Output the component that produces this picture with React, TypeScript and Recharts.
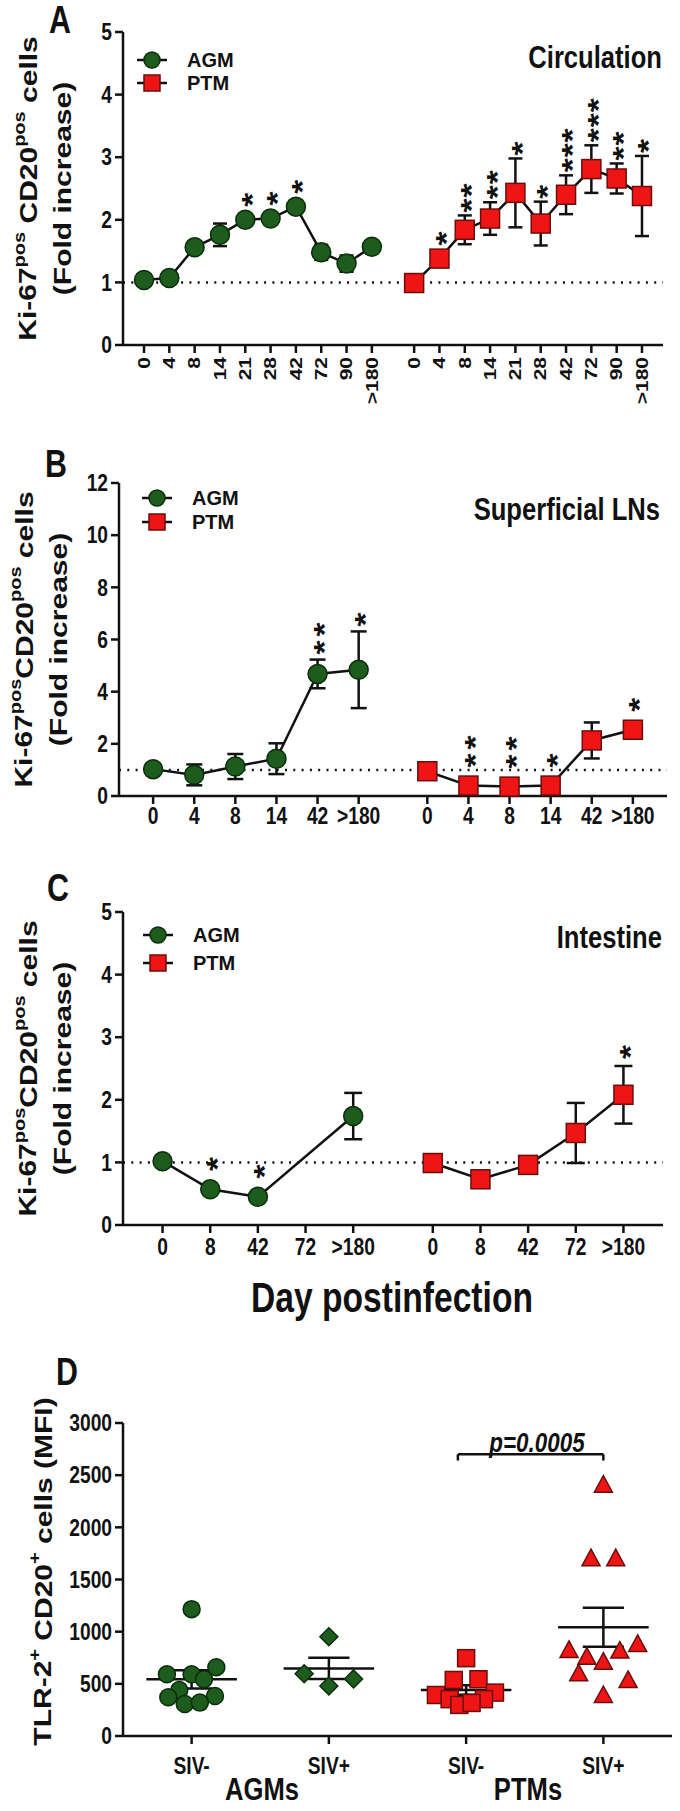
import React from 'react'
import { ComposedChart, Scatter, XAxis, YAxis, ErrorBar, ReferenceLine } from 'recharts'

const FONT = '"Liberation Sans", Arial, Helvetica, sans-serif'
const SQUEEZE = 0.8 // the figure is narrower than its type, so most text is squeezed a bit
const INK = '#111'
const GREEN = '#1d5c1d'
const GREEN_EDGE = '#0a2e0a'
const RED = '#f01515'
const RED_EDGE = '#6a0d0d'
const GAP = 1.67 // distance between the AGM and PTM blocks, in day steps
const PAD = 0.83
const Y_W = 50

// A - circulation
const circDays = ['0', '4', '8', '14', '21', '28', '42', '72', '90', '>180']
const circTicks = [0, 1, 2, 3, 4, 5]
const circAgm = [1.04, 1.07, 1.56, 1.76, 2.0, 2.02, 2.21, 1.48, 1.3, 1.57]
const circAgmErr = [0.03, 0.03, 0.05, 0.18, 0.05, 0.06, 0.1, 0.12, 0.13, 0.08]
const circAgmStars = ['', '', '', '', '*', '*', '*', '', '', '']
const circPtm = [0.99, 1.38, 1.84, 2.02, 2.43, 1.94, 2.4, 2.81, 2.66, 2.38]
const circPtmErr = [0.03, 0.05, 0.23, 0.26, 0.55, 0.35, 0.31, 0.38, 0.24, 0.64]
const circPtmStars = ['', '*', '**', '**', '*', '*', '***', '***', '**', '*']

// B - superficial lymph nodes
const lnDays = ['0', '4', '8', '14', '42', '>180']
const lnTicks = [0, 2, 4, 6, 8, 10, 12]
const lnAgm = [1.03, 0.81, 1.13, 1.43, 4.68, 4.84]
const lnAgmErr = [0.05, 0.4, 0.48, 0.59, 0.55, 1.47]
const lnAgmStars = ['', '', '', '', '**', '*']
const lnPtm = [0.95, 0.4, 0.36, 0.4, 2.13, 2.54]
const lnPtmErr = [0.05, 0.05, 0.05, 0.05, 0.69, 0.12]
const lnPtmStars = ['', '**', '**', '*', '', '*']

// C - intestine
const gutDays = ['0', '8', '42', '72', '>180']
const gutTicks = [0, 1, 2, 3, 4, 5]
const gutAgm = [1.02, 0.57, 0.45, null, 1.74]
const gutAgmErr = [0.03, 0.05, 0.04, null, 0.37]
const gutAgmStars = ['', '*', '*', '', '']
const gutPtm = [0.99, 0.73, 0.96, 1.47, 2.08]
const gutPtmErr = [0.04, 0.04, 0.04, 0.48, 0.46]
const gutPtmStars = ['', '', '', '', '*']

// D - TLR-2 MFI
const groupLabels = ['SIV-', 'SIV+', 'SIV-', 'SIV+']
const mfiTicks = [0, 500, 1000, 1500, 2000, 2500, 3000]
const agmNegMfi = [1216, 592, 592, 659, 544, 441, 371, 384, 307, 320]
const agmNegJitter = [0, -0.18, 0, 0.18, 0.09, -0.09, -0.17, 0.17, -0.05, 0.06]
const agmPosMfi = [951, 597, 547, 479]
const agmPosJitter = [0, -0.18, 0.18, 0]
const ptmNegMfi = [746, 537, 544, 393, 416, 353, 353, 298, 317]
const ptmNegJitter = [0, -0.09, 0.09, -0.22, 0.21, -0.12, 0.13, -0.05, 0.04]
const ptmPosMfi = [2409, 1705, 1705, 883, 825, 819, 761, 713, 601, 537, 393]
const ptmPosJitter = [0, -0.09, 0.09, 0.25, -0.25, 0.12, -0.12, 0, -0.18, 0.18, 0]
const groupMean = [543, 648, 441, 1043]
const groupSem = [88, 101, 45, 187]
const MEAN_HALF = 0.33
const CAP_HALF = 0.15
const bracketY = 2700
const bracketDrop = 60
const bracketFrom = 1.94
const bracketTo = 3

const AXIS = { stroke: INK, strokeWidth: 2.5 }
const LINE = { stroke: INK, strokeWidth: 2.5 }
const Y_TICK_FONT = 24

type Row = { x: number; y: number; err: number; stars: string }

function rowsFor(days: string[], vals: (number | null)[], errs: (number | null)[], stars: string[], start: number) {
  const out: Row[] = []
  days.forEach((_, i) => {
    const v = vals[i]
    if (v == null) return
    out.push({ x: start + i, y: v, err: errs[i] ?? 0, stars: stars[i] })
  })
  return out
}

function starRows(rows: Row[], pad: number) {
  return rows.filter((r) => r.stars).map((r) => ({ x: r.x, y: r.y + Math.max(r.err, pad), stars: r.stars }))
}

const circle = (fill: string, edge: string, r: number) => (p: any) => (
  <circle cx={p.cx} cy={p.cy} r={r} fill={fill} stroke={edge} strokeWidth={1.5} />
)
const square = (fill: string, edge: string, s: number) => (p: any) => (
  <rect x={p.cx - s / 2} y={p.cy - s / 2} width={s} height={s} fill={fill} stroke={edge} strokeWidth={1.5} />
)
const diamond = (fill: string, edge: string, h: number) => (p: any) => (
  <polygon
    points={`${p.cx},${p.cy - h} ${p.cx + h},${p.cy} ${p.cx},${p.cy + h} ${p.cx - h},${p.cy}`}
    fill={fill}
    stroke={edge}
    strokeWidth={1.5}
  />
)
const triangle = (fill: string, edge: string, w: number) => (p: any) => (
  <polygon
    points={`${p.cx},${p.cy - w * 0.5} ${p.cx + w / 2},${p.cy + w * 0.42} ${p.cx - w / 2},${p.cy + w * 0.42}`}
    fill={fill}
    stroke={edge}
    strokeWidth={1.5}
  />
)

// each column of asterisks is one text run, turned upright so the marks stack
// upwards from the top of the error bar
const STAR_SIZE = 36
const STAR_ADV = 0.389 * STAR_SIZE
const starShape = (gap: number, step: number) => (p: any) => {
  const marks = p.payload?.stars || ''
  if (!marks) return <g />
  return (
    <g transform={`translate(${p.cx},${p.cy}) scale(${SQUEEZE},1) rotate(-90)`}>
      <text
        x={gap - STAR_ADV / 2}
        y={STAR_SIZE * 0.57}
        letterSpacing={step - STAR_ADV}
        fontSize={STAR_SIZE}
        fontWeight="bold"
        fontFamily={FONT}
        fill={INK}
      >
        {marks}
      </text>
    </g>
  )
}

const makeYTick = (size: number) => (p: any) => (
  <g transform={`translate(${p.x},${p.y}) scale(${SQUEEZE},1)`}>
    <text textAnchor="end" dominantBaseline="central" fontSize={size} fontWeight="bold" fontFamily={FONT} fill={INK}>
      {p.payload.value}
    </text>
  </g>
)

const makeXTick = (xs: number[], labels: string[], rotate: boolean, size: number) => (p: any) => {
  const i = xs.findIndex((v) => Math.abs(v - p.payload.value) < 1e-6)
  const label = labels[i] ?? ''
  if (rotate) {
    return (
      <g transform={`translate(${p.x},${p.y}) scale(${SQUEEZE},1) rotate(-90)`}>
        <text textAnchor="end" dominantBaseline="central" fontSize={size} fontWeight="bold" fontFamily={FONT} fill={INK}>
          {label}
        </text>
      </g>
    )
  }
  return (
    <g transform={`translate(${p.x},${p.y}) scale(${SQUEEZE},1)`}>
      <text textAnchor="middle" dy="0.71em" fontSize={size} fontWeight="bold" fontFamily={FONT} fill={INK}>
        {label}
      </text>
    </g>
  )
}

function YTitle({ viewBox, lines, offsets, shift = 0 }: any) {
  if (!viewBox) return null
  const right = viewBox.x + viewBox.width
  const cy = viewBox.y + viewBox.height / 2 + shift
  return (
    <g>
      {lines.map((l: React.ReactNode, i: number) => (
        <g key={i} transform={`translate(${right - offsets[i]},${cy}) scale(${SQUEEZE},1) rotate(-90)`}>
          <text textAnchor="middle" dominantBaseline="central" fontSize={30} fontWeight="bold" fontFamily={FONT} fill={INK}>
            {l}
          </text>
        </g>
      ))}
    </g>
  )
}

const kiTitle = (gap: string) => (
  <>
    Ki-67
    <tspan fontSize={20} dy={-11}>
      pos
    </tspan>
    <tspan dy={11}>{gap}CD20</tspan>
    <tspan fontSize={20} dy={-11}>
      pos
    </tspan>
    <tspan dy={11}> cells</tspan>
  </>
)
const foldTitle = '(Fold increase)'
const tlrTitle = (
  <>
    TLR-2
    <tspan fontSize={20} dy={-11}>
      +
    </tspan>
    <tspan dy={11}> CD20</tspan>
    <tspan fontSize={20} dy={-11}>
      +
    </tspan>
    <tspan dy={11}> cells (MFI)</tspan>
  </>
)

function Note({ x, y, size, anchor = 'middle', italic = false, children }: any) {
  const tx = anchor === 'start' ? '0' : anchor === 'end' ? '-100%' : '-50%'
  return (
    <div
      style={{
        position: 'absolute',
        left: x,
        top: y,
        transform: `scaleX(${SQUEEZE}) translate(${tx}, -50%)`,
        transformOrigin: '0 0',
        fontSize: size,
        fontWeight: 'bold',
        fontStyle: italic ? 'italic' : 'normal',
        fontFamily: FONT,
        lineHeight: 0.8,
        whiteSpace: 'nowrap',
        color: INK,
      }}
    >
      {children}
    </div>
  )
}

// legend: two symbols with the series names set as one two-line block
function Key({ x, y, step }: any) {
  return (
    <>
      {['agm', 'ptm'].map((kind, i) => (
        <svg key={kind} width={34} height={24} style={{ position: 'absolute', left: x - 17, top: y + i * step - 12 }}>
          <line x1={2} y1={12} x2={32} y2={12} stroke={INK} strokeWidth={2.5} />
          {kind === 'agm' ? (
            <circle cx={17} cy={12} r={8} fill={GREEN} stroke={GREEN_EDGE} strokeWidth={1.5} />
          ) : (
            <rect x={9} y={4} width={16} height={16} fill={RED} stroke={RED_EDGE} strokeWidth={1.5} />
          )}
        </svg>
      ))}
      <div
        style={{
          position: 'absolute',
          left: x + 35,
          top: y - step / 2,
          fontSize: 20,
          fontWeight: 'bold',
          fontFamily: FONT,
          lineHeight: `${step}px`,
          whiteSpace: 'nowrap',
          color: INK,
        }}
      >
        AGM
        <br />
        PTM
      </div>
    </>
  )
}

type CourseProps = {
  top: number
  height: number
  plot: number[]
  xHeight: number
  days: string[]
  agm: (number | null)[]
  agmErr: (number | null)[]
  agmStars: string[]
  ptm: number[]
  ptmErr: number[]
  ptmStars: string[]
  yTicks: number[]
  rotate: boolean
  tickMargin: number
  tickFont: number
  titleLines: React.ReactNode[]
  starPad: number
  starGap: number
  starStep: number
  cap: number
}

function TimeCourse(p: CourseProps) {
  const n = p.days.length
  const ptmStart = n - 1 + GAP
  const xs = [...p.days.map((_, i) => i), ...p.days.map((_, i) => i + ptmStart)]
  const labels = [...p.days, ...p.days]
  const agmRows = rowsFor(p.days, p.agm, p.agmErr, p.agmStars, 0)
  const ptmRows = rowsFor(p.days, p.ptm, p.ptmErr, p.ptmStars, ptmStart)
  const stars = [...starRows(agmRows, p.starPad), ...starRows(ptmRows, p.starPad)]
  const [left, top, right, bottom] = p.plot
  const margin = {
    top: top - p.top,
    left: left - Y_W,
    right: 680 - right,
    bottom: p.top + p.height - bottom - p.xHeight,
  }
  return (
    <div style={{ position: 'absolute', left: 0, top: p.top }}>
      <ComposedChart width={680} height={p.height} margin={margin}>
        <XAxis
          type="number"
          dataKey="x"
          domain={[-PAD, xs[xs.length - 1] + PAD]}
          ticks={xs}
          interval={0}
          height={p.xHeight}
          tick={makeXTick(xs, labels, p.rotate, p.tickFont)}
          tickSize={8}
          tickMargin={p.tickMargin}
          axisLine={AXIS}
          tickLine={AXIS}
        />
        <YAxis
          type="number"
          dataKey="y"
          domain={[0, p.yTicks[p.yTicks.length - 1]]}
          ticks={p.yTicks}
          interval={0}
          width={Y_W}
          tick={makeYTick(Y_TICK_FONT)}
          tickSize={8}
          tickMargin={3}
          axisLine={AXIS}
          tickLine={AXIS}
          label={<YTitle lines={p.titleLines} offsets={[95, 60]} />}
        />
        <ReferenceLine y={1} stroke={INK} strokeWidth={2.5} strokeDasharray="2 6.3" />
        <Scatter data={agmRows} shape={circle(GREEN, GREEN_EDGE, 9.5)} line={LINE} isAnimationActive={false}>
          <ErrorBar dataKey="err" direction="y" width={p.cap} stroke={INK} strokeWidth={2.5} />
        </Scatter>
        <Scatter data={ptmRows} shape={square(RED, RED_EDGE, 19)} line={LINE} isAnimationActive={false}>
          <ErrorBar dataKey="err" direction="y" width={p.cap} stroke={INK} strokeWidth={2.5} />
        </Scatter>
        <Scatter data={stars} shape={starShape(p.starGap, p.starStep)} isAnimationActive={false} />
      </ComposedChart>
    </div>
  )
}

function DotPlot() {
  const pos = groupLabels.map((_, i) => i)
  const rows = (vals: number[], jit: number[], g: number) => vals.map((v, i) => ({ x: g + jit[i], y: v }))
  const segs: { x: number; y: number }[][] = []
  groupMean.forEach((m, i) => {
    const s = groupSem[i]
    segs.push([{ x: i - MEAN_HALF, y: m }, { x: i + MEAN_HALF, y: m }])
    segs.push([{ x: i, y: m - s }, { x: i, y: m + s }])
    segs.push([{ x: i - CAP_HALF, y: m + s }, { x: i + CAP_HALF, y: m + s }])
    segs.push([{ x: i - CAP_HALF, y: m - s }, { x: i + CAP_HALF, y: m - s }])
  })
  segs.push([{ x: bracketFrom, y: bracketY }, { x: bracketTo, y: bracketY }])
  segs.push([{ x: bracketFrom, y: bracketY }, { x: bracketFrom, y: bracketY - bracketDrop }])
  segs.push([{ x: bracketTo, y: bracketY }, { x: bracketTo, y: bracketY - bracketDrop }])
  return (
    <div style={{ position: 'absolute', left: 0, top: 1380 }}>
      <ComposedChart width={680} height={431} margin={{ top: 43, left: 123 - Y_W, right: 8, bottom: 35 }}>
        <XAxis
          type="number"
          dataKey="x"
          domain={[-0.5, pos.length - 0.5]}
          ticks={pos}
          interval={0}
          height={40}
          tick={makeXTick(pos, groupLabels, false, 24)}
          tickSize={8}
          tickMargin={13}
          axisLine={AXIS}
          tickLine={AXIS}
        />
        <YAxis
          type="number"
          dataKey="y"
          domain={[0, 3000]}
          ticks={mfiTicks}
          interval={0}
          width={Y_W}
          tick={makeYTick(Y_TICK_FONT)}
          tickSize={8}
          tickMargin={3}
          axisLine={AXIS}
          tickLine={AXIS}
          label={<YTitle lines={[tlrTitle]} offsets={[80]} shift={-8} />}
        />
        <Scatter data={rows(agmNegMfi, agmNegJitter, 0)} shape={circle(GREEN, GREEN_EDGE, 8.5)} isAnimationActive={false} />
        <Scatter data={rows(agmPosMfi, agmPosJitter, 1)} shape={diamond(GREEN, GREEN_EDGE, 9)} isAnimationActive={false} />
        <Scatter data={rows(ptmNegMfi, ptmNegJitter, 2)} shape={square(RED, RED_EDGE, 17)} isAnimationActive={false} />
        <Scatter data={rows(ptmPosMfi, ptmPosJitter, 3)} shape={triangle(RED, RED_EDGE, 18)} isAnimationActive={false} />
        {segs.map((s, i) => (
          <ReferenceLine key={i} segment={s} stroke={INK} strokeWidth={2.5} />
        ))}
      </ComposedChart>
    </div>
  )
}

export default function App() {
  return (
    <div
      style={{
        position: 'absolute',
        left: 0,
        top: 0,
        width: 680,
        height: 1811,
        background: '#fff',
        overflow: 'hidden',
        fontFamily: FONT,
      }}
    >
      <TimeCourse
        top={0}
        height={430}
        plot={[123, 32, 663, 345]}
        xHeight={70}
        days={circDays}
        agm={circAgm}
        agmErr={circAgmErr}
        agmStars={circAgmStars}
        ptm={circPtm}
        ptmErr={circPtmErr}
        ptmStars={circPtmStars}
        yTicks={circTicks}
        rotate
        tickMargin={4}
        tickFont={21}
        titleLines={[kiTitle(' '), foldTitle]}
        starPad={0.16}
        starGap={10}
        starStep={15}
        cap={7}
      />
      <TimeCourse
        top={440}
        height={420}
        plot={[119, 483, 667, 796]}
        xHeight={40}
        days={lnDays}
        agm={lnAgm}
        agmErr={lnAgmErr}
        agmStars={lnAgmStars}
        ptm={lnPtm}
        ptmErr={lnPtmErr}
        ptmStars={lnPtmStars}
        yTicks={lnTicks}
        rotate={false}
        tickMargin={3}
        tickFont={24}
        titleLines={[kiTitle(''), foldTitle]}
        starPad={0.5}
        starGap={12}
        starStep={18}
        cap={8}
      />
      <TimeCourse
        top={870}
        height={400}
        plot={[123, 912, 663, 1225]}
        xHeight={40}
        days={gutDays}
        agm={gutAgm}
        agmErr={gutAgmErr}
        agmStars={gutAgmStars}
        ptm={gutPtm}
        ptmErr={gutPtmErr}
        ptmStars={gutPtmStars}
        yTicks={gutTicks}
        rotate={false}
        tickMargin={5}
        tickFont={24}
        titleLines={[kiTitle(''), foldTitle]}
        starPad={0.18}
        starGap={14}
        starStep={16}
        cap={9}
      />
      <DotPlot />

      <Note x={60} y={20} size={38}>A</Note>
      <Note x={56} y={464} size={38}>B</Note>
      <Note x={58} y={888} size={38}>C</Note>
      <Note x={67} y={1372} size={38}>D</Note>

      <Key x={152} y={60} step={23} />
      <Key x={157} y={498} step={24} />
      <Key x={158} y={935} step={28} />

      <Note x={662} y={58} size={32} anchor="end">Circulation</Note>
      <Note x={660} y={510} size={32} anchor="end">Superficial LNs</Note>
      <Note x={662} y={938} size={32} anchor="end">Intestine</Note>

      <Note x={392} y={1298} size={42}>Day postinfection</Note>
      <Note x={537} y={1443} size={28} italic>p=0.0005</Note>
      <Note x={262} y={1790} size={32}>AGMs</Note>
      <Note x={528} y={1790} size={32}>PTMs</Note>
    </div>
  )
}
